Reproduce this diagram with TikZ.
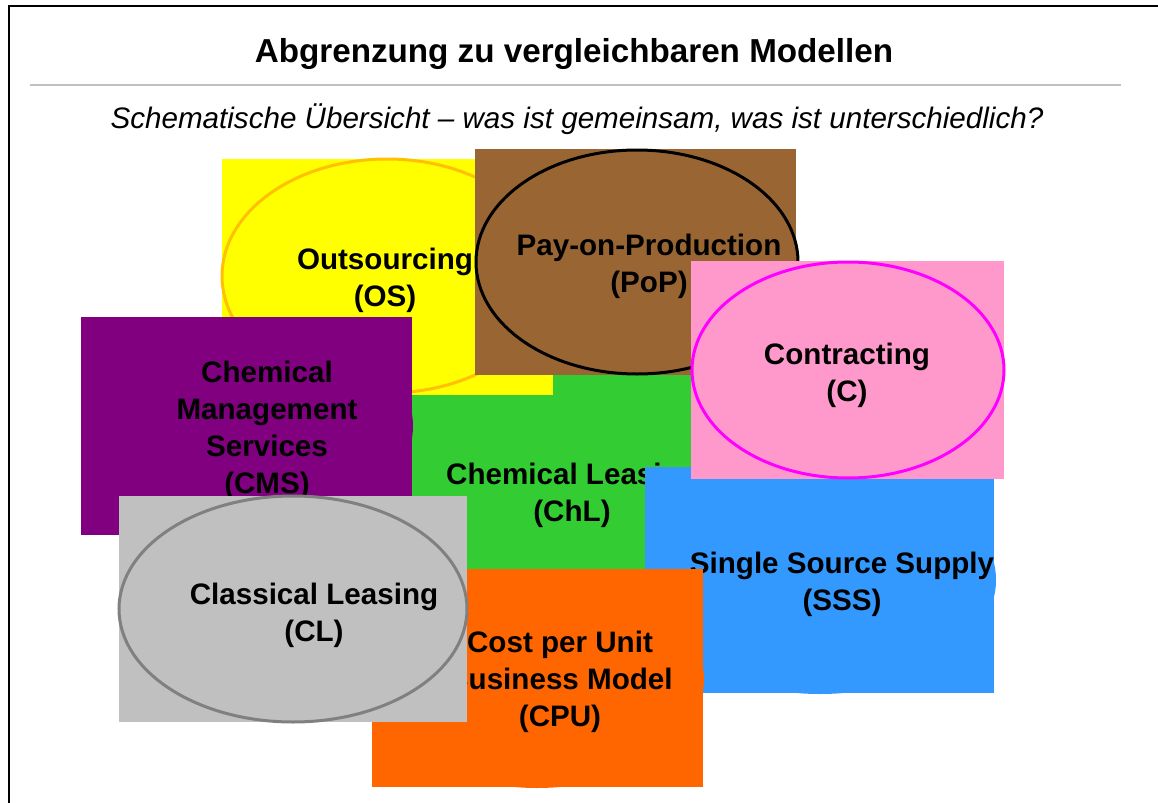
\documentclass[tikz,border=0pt]{standalone}
\usepackage{fontspec}
\setmainfont{Liberation Sans}
\usetikzlibrary{positioning}
\definecolor{osyellow}{HTML}{FFFF00}
\definecolor{osring}{HTML}{FFC000}
\definecolor{popbrown}{HTML}{996633}
\definecolor{cpink}{HTML}{FF99CC}
\definecolor{cring}{HTML}{FF00FF}
\definecolor{cmspurple}{HTML}{800080}
\definecolor{chlgreen}{HTML}{33CC33}
\definecolor{sssblue}{HTML}{3399FF}
\definecolor{clgray}{HTML}{C0C0C0}
\definecolor{clring}{HTML}{808080}
\definecolor{cpuorange}{HTML}{FF6600}
\definecolor{rulegray}{HTML}{C0C0C0}
\newcommand\labelfont{\bfseries\fontsize{14.8}{18.5}\selectfont}
\tikzset{
every picture/.style={
line width=1pt
}}
\tikzset{
  modelbox/.style={fill=#1},
  modelring/.style={fill=#1, line width=1.5pt},
  modeltext/.style={font=\labelfont, align=center, text=black, inner sep=0pt},
  headline/.style={font=\bfseries\fontsize{16.6}{20}\selectfont, anchor=base, inner sep=0pt},
  subline/.style={font=\itshape\fontsize{14.8}{18}\selectfont, anchor=base, inner sep=0pt}
}

\begin{document}
\begin{tikzpicture}[x=0.5pt, y=-0.5pt]
  \useasboundingbox (0,0) rectangle (1158,803);

  % frame and headings
  \draw[line width=1pt] (9,803) -- (9,6) -- (1158,6);
  \node[headline] (title) at (574,62) {Abgrenzung zu vergleichbaren Modellen};
  \draw[rulegray, line width=1pt] (30,85) -- (1121,85);
  \node[subline] (subtitle) at (577,128) {Schematische Übersicht – was ist gemeinsam, was ist unterschiedlich?};

  % Chemical Leasing
  \fill[modelbox=chlgreen] (412,372) rectangle (732,612);
  \fill[modelbox=chlgreen] (572,492) ellipse [x radius=158, y radius=118];
  \node[modeltext] (chl) at (572,495) {Chemical Leasing\\(ChL)};

  % Outsourcing
  \fill[modelbox=osyellow] (222,159) rectangle (553,395);
  \draw[modelring=osyellow, draw=osring] (387,276) ellipse [x radius=165, y radius=117];
  \node[modeltext] (os) at (385,280) {Outsourcing\\(OS)};

  % Pay-on-Production
  \fill[modelbox=popbrown] (475,149) rectangle (796,375);
  \draw[modelring=popbrown, draw=black] (637,262) ellipse [x radius=161, y radius=112];
  \node[modeltext] (pop) at (649,266) {Pay-on-Production\\(PoP)};

  % Chemical Management Services
  \fill[modelbox=cmspurple] (81,317) rectangle (412,535);
  \fill[modelbox=cmspurple] (247,426) ellipse [x radius=166, y radius=108];
  \node[modeltext] (cms) at (267,430) {Chemical\\Management\\Services\\(CMS)};

  % Single Source Supply
  \fill[modelbox=sssblue] (645,467) rectangle (994,693);
  \fill[modelbox=sssblue] (820,580) ellipse [x radius=176, y radius=114];
  \node[modeltext] (sss) at (842,584) {Single Source Supply\\(SSS)};

  % Contracting
  \fill[modelbox=cpink] (691,261) rectangle (1004,479);
  \draw[modelring=cpink, draw=cring] (848,370) ellipse [x radius=156, y radius=108];
  \node[modeltext] (c) at (847,375) {Contracting\\(C)};

  % Cost per Unit
  \fill[modelbox=cpuorange] (372,569) rectangle (703,787);
  \fill[modelbox=cpuorange] (537,679) ellipse [x radius=167, y radius=109];
  \node[modeltext] (cpu) at (560,682) {Cost per Unit\\Business Model\\(CPU)};

  % Classical Leasing
  \fill[modelbox=clgray] (119,496) rectangle (467,722);
  \draw[modelring=clgray, draw=clring] (293,609) ellipse [x radius=174, y radius=113];
  \node[modeltext] (cl) at (314,615) {Classical Leasing\\(CL)};
\end{tikzpicture}
\end{document}
